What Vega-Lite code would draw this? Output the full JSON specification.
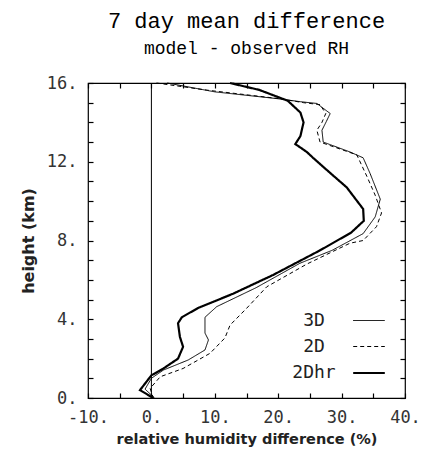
{
  "$schema": "https://vega.github.io/schema/vega-lite/v6.json",
  "width": 317,
  "height": 315,
  "autosize": {"type": "none"},
  "padding": {"left": 88, "top": 83, "right": 17, "bottom": 57},
  "background": "white",
  "title": {
    "text": "7 day mean difference",
    "subtitle": "model - observed RH",
    "font": "Liberation Mono",
    "fontSize": 22,
    "fontWeight": "normal",
    "color": "black",
    "subtitleFont": "Liberation Mono",
    "subtitleFontSize": 18,
    "subtitleColor": "black",
    "subtitlePadding": 7,
    "anchor": "middle",
    "offset": 15
  },
  "config": {
    "view": {"stroke": "black", "strokeWidth": 1.2},
    "axis": {
      "grid": false,
      "domain": false,
      "ticks": true,
      "zindex": 1,
      "tickColor": "black",
      "tickWidth": 1.2,
      "tickSize": 5,
      "offset": -5,
      "labelFlush": false,
      "labelFont": "DejaVu Sans Mono",
      "labelFontSize": 17,
      "labelColor": "#333",
      "titleFont": "DejaVu Sans",
      "titleFontWeight": "bold",
      "titleColor": "#222"
    }
  },
  "datasets": {
    "profiles": [
      {"series": "2Dhr", "rh": 12.4, "h": 16.0},
      {"series": "2Dhr", "rh": 17.0, "h": 15.65},
      {"series": "2Dhr", "rh": 21.5, "h": 15.1},
      {"series": "2Dhr", "rh": 23.5, "h": 14.5},
      {"series": "2Dhr", "rh": 24.0, "h": 14.0},
      {"series": "2Dhr", "rh": 23.5, "h": 13.3},
      {"series": "2Dhr", "rh": 22.7, "h": 12.9},
      {"series": "2Dhr", "rh": 24.5, "h": 12.5},
      {"series": "2Dhr", "rh": 25.5, "h": 12.2},
      {"series": "2Dhr", "rh": 27.6, "h": 11.6},
      {"series": "2Dhr", "rh": 30.8, "h": 10.7},
      {"series": "2Dhr", "rh": 33.4, "h": 9.6},
      {"series": "2Dhr", "rh": 33.5, "h": 9.0},
      {"series": "2Dhr", "rh": 31.5, "h": 8.4},
      {"series": "2Dhr", "rh": 26.6, "h": 7.5},
      {"series": "2Dhr", "rh": 19.2, "h": 6.25},
      {"series": "2Dhr", "rh": 12.9, "h": 5.3},
      {"series": "2Dhr", "rh": 7.35, "h": 4.57},
      {"series": "2Dhr", "rh": 4.8, "h": 4.1},
      {"series": "2Dhr", "rh": 4.2, "h": 3.8},
      {"series": "2Dhr", "rh": 4.5, "h": 3.1},
      {"series": "2Dhr", "rh": 5.0, "h": 2.6},
      {"series": "2Dhr", "rh": 4.2, "h": 2.0},
      {"series": "2Dhr", "rh": 1.9, "h": 1.5},
      {"series": "2Dhr", "rh": 0.0, "h": 1.15},
      {"series": "2Dhr", "rh": -1.8, "h": 0.4},
      {"series": "2Dhr", "rh": 0.3, "h": 0.0},

      {"series": "3D", "rh": 2.5, "h": 16.0},
      {"series": "3D", "rh": 10.0, "h": 15.55},
      {"series": "3D", "rh": 20.0, "h": 15.2},
      {"series": "3D", "rh": 23.5, "h": 15.05},
      {"series": "3D", "rh": 26.1, "h": 14.96},
      {"series": "3D", "rh": 28.2, "h": 14.45},
      {"series": "3D", "rh": 27.6, "h": 14.05},
      {"series": "3D", "rh": 26.9, "h": 13.6},
      {"series": "3D", "rh": 27.1, "h": 13.0},
      {"series": "3D", "rh": 31.3, "h": 12.5},
      {"series": "3D", "rh": 33.4, "h": 12.2},
      {"series": "3D", "rh": 34.5, "h": 11.4},
      {"series": "3D", "rh": 36.1, "h": 10.1},
      {"series": "3D", "rh": 35.3, "h": 9.2},
      {"series": "3D", "rh": 33.4, "h": 8.35},
      {"series": "3D", "rh": 28.5, "h": 7.5},
      {"series": "3D", "rh": 23.4, "h": 6.84},
      {"series": "3D", "rh": 16.5, "h": 5.6},
      {"series": "3D", "rh": 10.3, "h": 4.64},
      {"series": "3D", "rh": 8.45, "h": 4.1},
      {"series": "3D", "rh": 8.45, "h": 3.3},
      {"series": "3D", "rh": 9.0, "h": 2.95},
      {"series": "3D", "rh": 8.45, "h": 2.44},
      {"series": "3D", "rh": 5.8, "h": 1.93},
      {"series": "3D", "rh": 1.9, "h": 1.42},
      {"series": "3D", "rh": 0.0, "h": 1.0},
      {"series": "3D", "rh": -1.0, "h": 0.45},
      {"series": "3D", "rh": 0.5, "h": 0.0},

      {"series": "2D", "rh": 0.8, "h": 16.0},
      {"series": "2D", "rh": 8.7, "h": 15.64},
      {"series": "2D", "rh": 20.3, "h": 15.2},
      {"series": "2D", "rh": 24.0, "h": 15.0},
      {"series": "2D", "rh": 26.6, "h": 14.9},
      {"series": "2D", "rh": 27.5, "h": 14.45},
      {"series": "2D", "rh": 26.9, "h": 14.0},
      {"series": "2D", "rh": 26.1, "h": 13.6},
      {"series": "2D", "rh": 26.6, "h": 13.0},
      {"series": "2D", "rh": 32.4, "h": 12.35},
      {"series": "2D", "rh": 34.0, "h": 11.25},
      {"series": "2D", "rh": 35.3, "h": 10.3},
      {"series": "2D", "rh": 36.3, "h": 9.4},
      {"series": "2D", "rh": 35.5, "h": 8.7},
      {"series": "2D", "rh": 33.4, "h": 8.0},
      {"series": "2D", "rh": 31.3, "h": 7.86},
      {"series": "2D", "rh": 24.5, "h": 6.8},
      {"series": "2D", "rh": 18.2, "h": 5.65},
      {"series": "2D", "rh": 15.0, "h": 4.55},
      {"series": "2D", "rh": 12.4, "h": 3.7},
      {"series": "2D", "rh": 11.6, "h": 3.05},
      {"series": "2D", "rh": 9.25, "h": 2.27},
      {"series": "2D", "rh": 5.0, "h": 1.5},
      {"series": "2D", "rh": 1.4, "h": 1.08},
      {"series": "2D", "rh": -0.2, "h": 0.49},
      {"series": "2D", "rh": 0.3, "h": 0.0}
    ],
    "zero": [{"v": 0, "h0": 0, "h1": 16}]
  },
  "resolve": {"axis": {"x": "independent", "y": "independent"}},
  "layer": [
    {
      "data": {"name": "profiles"},
      "mark": {"type": "line", "color": "black"},
      "encoding": {
        "x": {
          "field": "rh", "type": "quantitative",
          "scale": {"domain": [-10, 40], "nice": false},
          "axis": {
            "orient": "bottom",
            "values": [-10, -5, 0, 5, 10, 15, 20, 25, 30, 35, 40],
            "labelExpr": "datum.value % 10 == 0 ? datum.value + '.' : ''",
            "labelPadding": 11,
            "title": "relative humidity difference (%)",
            "titleFontSize": 14.5,
            "titlePadding": 7
          }
        },
        "y": {
          "field": "h", "type": "quantitative",
          "scale": {"domain": [0, 16], "nice": false},
          "axis": {
            "orient": "left",
            "values": [0, 1, 2, 3, 4, 5, 6, 7, 8, 9, 10, 11, 12, 13, 14, 15, 16],
            "labelExpr": "datum.value % 4 == 0 ? datum.value + '.' : ''",
            "labelPadding": 11,
            "title": "height (km)",
            "titleFontSize": 16,
            "titlePadding": 10
          }
        },
        "order": {"field": "h", "sort": "descending"},
        "strokeDash": {
          "field": "series", "type": "nominal",
          "scale": {"domain": ["3D", "2D", "2Dhr"], "range": [[1, 0], [4, 3], [1, 0]]},
          "legend": {
            "orient": "none", "legendX": 264, "legendY": 221,
            "title": null, "labelAlign": "center", "labelOffset": -72,
            "symbolType": "stroke", "symbolSize": 1000, "symbolStrokeColor": "black",
            "labelFont": "DejaVu Sans Mono", "labelFontSize": 18, "labelColor": "#222",
            "rowPadding": -5,
            "encode": {
              "symbols": {
                "update": {
                  "strokeWidth": {"signal": "datum.value == '2Dhr' ? 2.4 : 1"}
                }
              }
            }
          }
        },
        "strokeWidth": {
          "field": "series", "type": "nominal",
          "scale": {"type": "ordinal", "domain": ["3D", "2D", "2Dhr"], "range": [1, 1, 2.2]},
          "legend": null
        }
      }
    },
    {
      "data": {"name": "zero"},
      "mark": {"type": "rule", "color": "black", "strokeWidth": 1},
      "encoding": {
        "x": {
          "field": "v", "type": "quantitative",
          "scale": {"domain": [-10, 40], "nice": false},
          "axis": {
            "orient": "top",
            "values": [-10, -5, 0, 5, 10, 15, 20, 25, 30, 35, 40],
            "labels": false, "title": null
          }
        },
        "y": {
          "field": "h0", "type": "quantitative",
          "scale": {"domain": [0, 16], "nice": false},
          "axis": {
            "orient": "right",
            "values": [0, 1, 2, 3, 4, 5, 6, 7, 8, 9, 10, 11, 12, 13, 14, 15, 16],
            "labels": false, "title": null
          }
        },
        "y2": {"field": "h1"}
      }
    }
  ]
}
